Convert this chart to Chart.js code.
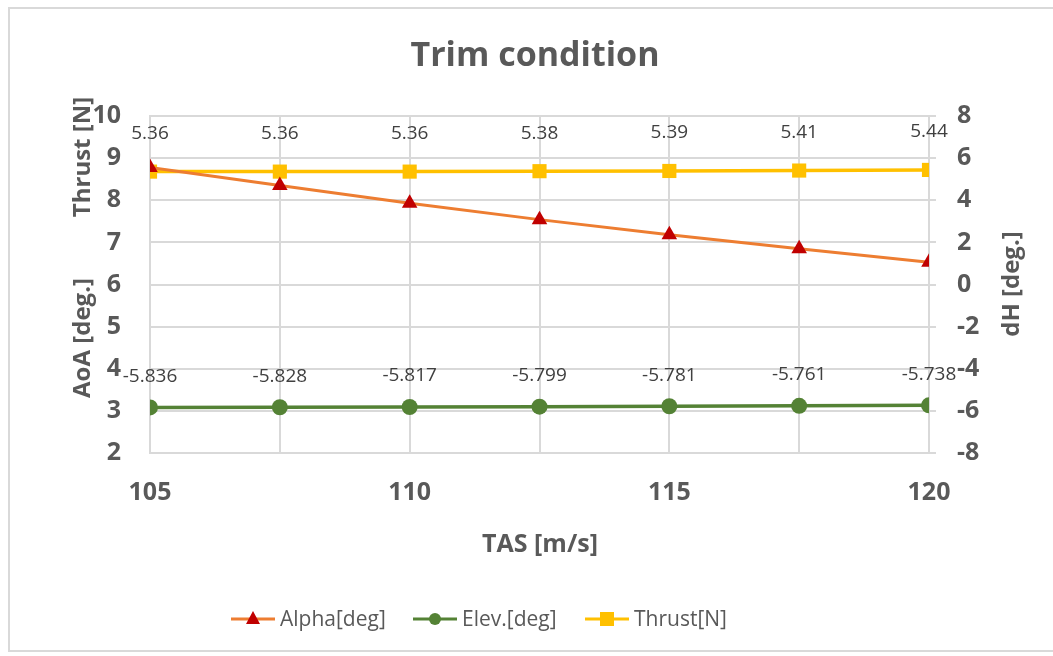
<!DOCTYPE html>
<html>
<head>
<meta charset="utf-8">
<script src="https://cdn.jsdelivr.net/npm/chart.js@4.4.1/dist/chart.umd.min.js"></script>
<style>
  html, body { margin: 0; padding: 0; background: #fff; overflow: hidden; }
  #wrap { position: relative; width: 1053px; height: 656px; overflow: hidden; }
  #frame { position: absolute; left: 8px; top: 7px; width: 1045px; height: 645px; border: 2px solid #d9d9d9; border-right: none; box-sizing: border-box; }
  canvas { position: absolute; left: 0; top: 0; }
</style>
</head>
<body>
<div id="wrap">
  <div id="frame"></div>
  <canvas id="chart" width="1053" height="656"></canvas>
</div>
<script>
const tas = [105, 107.5, 110, 112.5, 115, 117.5, 120]
const alpha = [8.78, 8.35, 7.93, 7.54, 7.18, 6.85, 6.53]
const elev = [-5.836, -5.828, -5.817, -5.799, -5.781, -5.761, -5.738]
const thrust = [5.36, 5.36, 5.36, 5.38, 5.39, 5.41, 5.44]

const titleText = 'Trim condition'
const xTitle = 'TAS [m/s]'
const leftTitles = ['AoA [deg.]', 'Thrust [N]']
const rightTitle = 'dH [deg.]'

const gray = '#595959'
const gridColor = '#d9d9d9'
const fontFam = '"Open Sans", "Noto Sans", sans-serif'

const pts = arr => tas.map((x, i) => ({ x, y: arr[i] }))

// value labels, titles and the legend drawn on top of the chart
const extras = {
  id: 'extras',
  afterDatasetsDraw(chart) {
    const { ctx, scales } = chart
    ctx.save()
    ctx.fillStyle = '#404040'
    ctx.font = '19px ' + fontFam
    ctx.textAlign = 'center'
    ctx.textBaseline = 'middle'
    thrust.forEach((v, i) => {
      ctx.fillText(v.toFixed(2), scales.x.getPixelForValue(tas[i]), scales.y1.getPixelForValue(v) - 38)
    })
    elev.forEach((v, i) => {
      ctx.fillText(v.toFixed(3), scales.x.getPixelForValue(tas[i]), scales.y1.getPixelForValue(v) - 31)
    })

    ctx.fillStyle = gray
    ctx.font = 'bold 34px ' + fontFam
    ctx.fillText(titleText, 535, 56)

    ctx.font = 'bold 25px ' + fontFam
    ctx.fillText(xTitle, 540, 545)

    const rot = (txt, x, y, a) => {
      ctx.save()
      ctx.translate(x, y)
      ctx.rotate(a)
      ctx.fillText(txt, 0, 0)
      ctx.restore()
    }
    ctx.font = 'bold 24px ' + fontFam
    rot(leftTitles[0], 83, 338, -Math.PI / 2)
    rot(leftTitles[1], 83, 157, -Math.PI / 2)
    rot(rightTitle, 1012, 284, -Math.PI / 2)

    // legend
    const items = chart.data.datasets
    const lx = [231, 413, 585]
    ctx.font = '21px ' + fontFam
    ctx.textAlign = 'left'
    items.forEach((ds, i) => {
      const x0 = lx[i], y0 = 619
      ctx.strokeStyle = ds.borderColor
      ctx.lineWidth = 3
      ctx.beginPath()
      ctx.moveTo(x0, y0)
      ctx.lineTo(x0 + 44, y0)
      ctx.stroke()
      ctx.fillStyle = ds.pointBackgroundColor
      const cx = x0 + 22
      if (ds.pointStyle === 'triangle') {
        ctx.beginPath()
        ctx.moveTo(cx, y0 - 8)
        ctx.lineTo(cx + 7, y0 + 5)
        ctx.lineTo(cx - 7, y0 + 5)
        ctx.closePath()
        ctx.fill()
      } else if (ds.pointStyle === 'rect') {
        ctx.fillRect(cx - 7, y0 - 7, 14, 14)
      } else {
        ctx.beginPath()
        ctx.arc(cx, y0, 6, 0, Math.PI * 2)
        ctx.fill()
      }
      ctx.fillStyle = gray
      ctx.fillText(ds.label, x0 + 49, y0 + 1)
    })
    ctx.restore()
  },
}

new Chart(document.getElementById('chart'), {
  type: 'line',
  data: {
    datasets: [
      {
        label: 'Alpha[deg]',
        data: pts(alpha),
        yAxisID: 'y',
        borderColor: '#ED7D31',
        borderWidth: 3,
        pointStyle: 'triangle',
        pointRadius: 9,
        pointBackgroundColor: '#C00000',
        pointBorderColor: '#C00000',
        pointBorderWidth: 0,
      },
      {
        label: 'Elev.[deg]',
        data: pts(elev),
        yAxisID: 'y1',
        borderColor: '#548235',
        borderWidth: 3.5,
        pointStyle: 'circle',
        pointRadius: 8,
        pointBackgroundColor: '#548235',
        pointBorderColor: '#548235',
        pointBorderWidth: 0,
      },
      {
        label: 'Thrust[N]',
        data: pts(thrust),
        yAxisID: 'y1',
        borderColor: '#FFC000',
        borderWidth: 3.5,
        pointStyle: 'rect',
        pointRadius: 10,
        pointBackgroundColor: '#FFC000',
        pointBorderColor: '#FFC000',
        pointBorderWidth: 0,
      },
    ],
  },
  options: {
    responsive: false,
    animation: false,
    layout: { padding: { top: 116, left: 0, right: 0, bottom: 0 } },
    plugins: { legend: { display: false }, title: { display: false }, tooltip: { enabled: false } },
    scales: {
      x: {
        type: 'linear',
        min: 105,
        max: 120,
        afterFit: s => { s.height = 203 },
        afterBuildTicks: s => { s.ticks = tas.map(v => ({ value: v })) },
        grid: { color: gridColor, lineWidth: 2, drawTicks: false },
        border: { color: gridColor, width: 2 },
        ticks: {
          padding: 25,
          color: gray,
          font: { family: fontFam, size: 25, weight: 'bold' },
          maxRotation: 0,
          autoSkip: false,
          callback: v => (v % 5 === 0 ? String(v) : ''),
        },
      },
      y: {
        position: 'left',
        min: 2,
        max: 10,
        afterFit: s => { s.width = 150 },
        grid: { color: gridColor, lineWidth: 2, drawTicks: false },
        border: { color: gridColor, width: 2 },
        ticks: { stepSize: 1, padding: 29, color: gray, font: { family: fontFam, size: 25, weight: 'bold' } },
      },
      y1: {
        position: 'right',
        min: -8,
        max: 8,
        afterFit: s => { s.width = 124 },
        grid: { color: gridColor, lineWidth: 2, drawOnChartArea: false, tickLength: 7 },
        border: { color: gridColor, width: 2 },
        ticks: { stepSize: 2, padding: 21, color: gray, font: { family: fontFam, size: 25, weight: 'bold' } },
      },
    },
  },
  plugins: [extras],
})
</script>
</body>
</html>
